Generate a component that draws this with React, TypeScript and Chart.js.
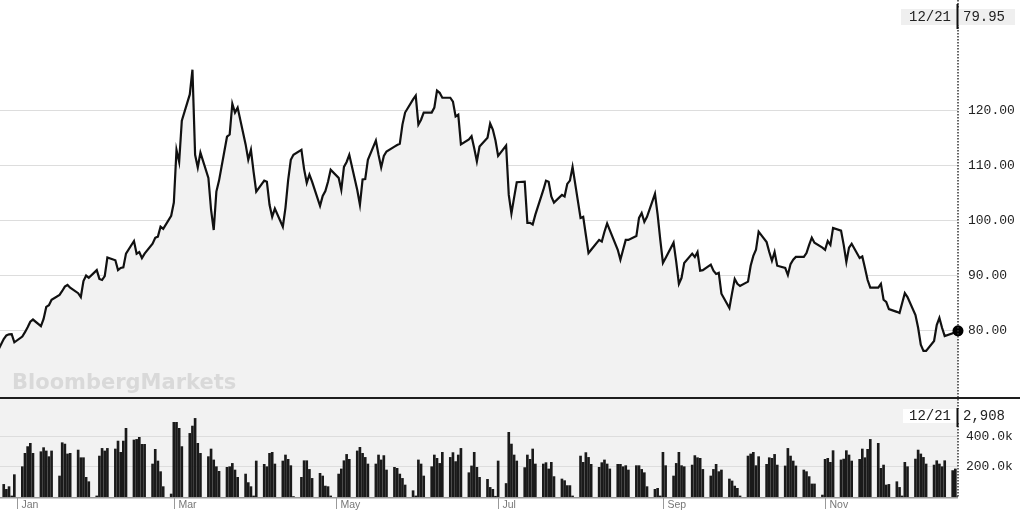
import { useEffect, useRef } from "react";
import { Chart, registerables } from "chart.js";

Chart.register(...registerables);

// ---- categories: trading days (weekdays) from 24 Dec 2021 to 21 Dec 2022 ----
const DAY = 86400000;
const START = Date.UTC(2021, 11, 24);
const END = Date.UTC(2022, 11, 21);
const JAN1 = Date.UTC(2022, 0, 1);
function buildTradingDays(): number[] {
  const out: number[] = [];
  for (let t = START; t <= END; t += DAY) {
    const wd = new Date(t).getUTCDay();
    if (wd !== 0 && wd !== 6) out.push((t - JAN1) / DAY);
  }
  return out;
}
const tradingDays = buildTradingDays();

// ---- series: closing price (one value per trading day, week by week) ----
const prices = [
  75.5, 78.45, 79.1, 79.3, 79.35, 77.85,
  78.9, 79.7, 80.6, 81.6, 82.0,
  80.8, 82.1, 84.3, 84.6, 85.6,
  86.5, 87.2, 88.0, 88.3, 87.8,
  86.8, 86.1, 89.0, 90.0, 89.6,
  91.0, 89.4, 89.2, 89.9, 93.3,
  92.8, 91.0, 91.4, 91.5, 94.0,
  96.3, 94.0, 94.3, 93.2, 94.0,
  95.8, 96.9, 97.1, 98.9, 98.5,
  100.9, 103.3, 112.9, 110.7, 118.2,
  123.0, 127.5, 112.0, 109.7, 112.4,
  107.8, 102.0, 98.3, 105.3, 107.3,
  115.3, 115.7, 121.3, 119.7, 120.6,
  113.9, 111.1, 112.9, 108.9, 105.3,
  107.3, 107.1, 102.9, 100.7, 102.2,
  98.9, 102.4, 107.4, 111.1, 112.0,
  112.9, 109.4, 106.9, 108.4, 107.1,
  102.7, 104.5, 105.4, 107.1, 109.3,
  107.8, 105.6, 109.8, 110.7, 112.0,
  105.6, 102.9, 107.5, 107.6, 111.1,
  114.6, 112.0, 109.7, 111.8, 112.6,
  113.5, 113.8, 114.0, 117.5, 119.7,
  122.1, 122.8, 117.5, 118.4, 119.7,
  119.7, 120.6, 123.7, 123.3, 122.4,
  122.4, 121.7, 119.0, 119.3, 113.9,
  114.8, 115.4, 113.2, 110.8, 113.5,
  115.1, 117.7, 116.6, 114.6, 111.8,
  113.7, 104.7, 101.3, 104.2, 107.0,
  107.1, 99.6, 99.6, 99.3, 101.1,
  105.6, 107.3, 107.1, 104.4, 103.3,
  104.7, 104.4, 106.7, 107.3, 109.8,
  100.5, 100.7, 97.4, 94.1, 94.7,
  96.5, 96.2, 98.0, 99.5, 98.3,
  94.7, 92.9, 94.7, 96.5, 96.5,
  97.2, 100.5, 101.4, 99.8, 100.7,
  104.9, 101.1, 96.5, 92.3, 93.2,
  96.0, 92.5, 88.5, 89.6, 92.3,
  94.0, 93.4, 94.3, 90.9, 91.0,
  92.0, 90.9, 90.3, 90.5, 86.7,
  84.1, 86.8, 89.4, 88.5, 88.1,
  88.9, 91.8, 93.6, 94.7, 98.0,
  96.1, 94.3, 92.7, 94.3, 91.8,
  91.4, 90.1, 92.1, 92.9, 93.4,
  93.4, 94.1, 95.6, 96.9, 96.0,
  95.1, 94.7, 96.3, 95.6, 98.7,
  98.2, 95.6, 92.5, 95.1, 95.8,
  93.2, 93.5, 91.4, 89.2, 87.8,
  87.8, 88.5, 85.6, 85.2, 83.9,
  83.4, 83.2, 85.0, 86.8, 86.1,
  82.8, 80.5, 77.4, 76.3, 76.3,
  78.1, 81.0, 82.3, 80.5, 79.0,
  79.5, 79.8, 79.95,
];

// ---- series: volume in thousands ----
const volumesK = [
  60, 84, 51, 69, 7, 149,
  202, 291, 336, 358, 291,
  302, 329, 307, 269, 307,
  140, 362, 353, 287, 291,
  313, 262, 262, 131, 102,
  7, 273, 324, 307, 324,
  320, 373, 298, 373, 458,
  380, 384, 398, 351, 351,
  220, 318, 240, 169, 69,
  20, 498, 498, 458, 336,
  424, 473, 524, 358, 291,
  269, 320, 247, 202, 171,
  198, 202, 224, 180, 131,
  153, 96, 69, 7, 240,
  218, 202, 291, 298, 220,
  240, 280, 251, 209, 3,
  131, 242, 242, 184, 124,
  158, 140, 73, 69, 7,
  153, 187, 242, 284, 251,
  307, 331, 291, 264, 220,
  220, 280, 247, 276, 180,
  198, 191, 153, 124, 80,
  42, 7, 247, 220, 140,
  202, 280, 258, 224, 298,
  264, 296, 236, 280, 324,
  162, 207, 298, 198, 131,
  118, 64, 51, 5, 240,
  90, 431, 353, 280, 240,
  196, 280, 251, 320, 220,
  220, 229, 187, 231, 136,
  120, 109, 76, 76, 7,
  273, 231, 296, 264, 218,
  198, 229, 247, 220, 187,
  218, 218, 202, 209, 180,
  209, 209, 184, 162, 69,
  51, 58, 7, 298, 209,
  140, 224, 298, 209, 202,
  213, 276, 262, 258, 184,
  140, 184, 218, 169, 180,
  120, 107, 73, 58, 7,
  273, 287, 298, 209, 269,
  218, 262, 258, 284, 213,
  207, 324, 273, 240, 207,
  180, 169, 136, 87, 87,
  13, 251, 258, 231, 309,
  247, 253, 309, 280, 240,
  251, 320, 262, 318, 384,
  358, 191, 213, 80, 84,
  102, 64, 7, 231, 202,
  253, 313, 287, 264, 220,
  213, 242, 220, 202, 242,
  176, 187, 2.908,
];

// ---- axis ticks / labels ----
const monthLabels = ["Jan", "Mar", "May", "Jul", "Sep", "Nov"];
const monthDays = [0, 59, 120, 181, 243, 304];
const priceTicks = [80, 90, 100, 110, 120];
const volumeTicks = [200000, 400000];
const lastDateLabel = "12/21";
const lastPriceLabel = "79.95";
const lastVolumeLabel = "2,908";

const X_MIN = -6.4;
const X_MAX = 354;
const MONO = "'Liberation Mono', 'Courier New', monospace";

function fitRightAxis(s: any) {
  s.width = 62;
  s.paddingTop = 0;
  s.paddingBottom = 0;
  s.paddingLeft = 0;
  s.paddingRight = 0;
}

export default function App() {
  const priceRef = useRef<HTMLCanvasElement>(null);
  const volRef = useRef<HTMLCanvasElement>(null);

  useEffect(() => {
    const last = prices.length - 1;

    const pricePlugin = {
      id: "priceDecor",
      afterDraw(chart: any) {
        const { ctx, chartArea } = chart;
        const xr = chartArea.right;
        ctx.save();
        // watermark
        ctx.font = "bold 21px 'DejaVu Sans', sans-serif";
        ctx.fillStyle = "#d9d9d9";
        ctx.textBaseline = "alphabetic";
        ctx.textAlign = "left";
        ctx.fillText("BloombergMarkets", 12, 388.5);
        // dotted vertical line
        ctx.strokeStyle = "#333";
        ctx.lineWidth = 1.5;
        ctx.setLineDash([1.5, 1.5]);
        ctx.beginPath();
        ctx.moveTo(xr, 0);
        ctx.lineTo(xr, chart.height);
        ctx.stroke();
        ctx.setLineDash([]);
        // last value box
        ctx.fillStyle = "#efefef";
        ctx.fillRect(901, 9, 114, 16);
        ctx.fillStyle = "#111";
        ctx.fillRect(xr - 1.5, 4, 2, 25);
        ctx.font = "14px " + MONO;
        ctx.fillStyle = "#222";
        ctx.textBaseline = "middle";
        ctx.fillText(lastDateLabel, 909, 17.5);
        ctx.fillText(lastPriceLabel, 963, 17.5);
        ctx.restore();
      },
    };

    const priceChart = new Chart(priceRef.current!, {
      type: "line",
      data: {
        datasets: [
          {
            data: tradingDays.map((d, i) => ({ x: d, y: prices[i] })),
            borderColor: "#111",
            borderWidth: 2.2,
            fill: "start",
            backgroundColor: "#f2f2f2",
            tension: 0,
            pointRadius: (c: any) => (c.dataIndex === last ? 5.5 : 0),
            pointHoverRadius: 0,
            pointBackgroundColor: "#000",
            pointBorderWidth: 0,
            clip: { left: 0, top: 10, right: 10, bottom: 0 } as any,
          },
        ],
      },
      options: {
        animation: false,
        responsive: false,
        maintainAspectRatio: false,
        events: [],
        layout: { padding: 0, autoPadding: false },
        plugins: { legend: { display: false }, tooltip: { enabled: false } },
        scales: {
          x: { type: "linear", min: X_MIN, max: X_MAX, display: false },
          y: {
            type: "linear",
            position: "right",
            min: 67.89,
            max: 140.2,
            afterFit: fitRightAxis,
            afterBuildTicks: (s: any) => {
              s.ticks = priceTicks.map((v) => ({ value: v }));
            },
            grid: { color: "#dddddd", lineWidth: 1, drawTicks: false },
            border: { display: false },
            ticks: {
              padding: 10,
              color: "#222",
              font: { family: MONO, size: 13 },
              callback: (v: any) => Number(v).toFixed(2),
            },
          },
        },
      },
      plugins: [pricePlugin],
    });

    const volPlugin = {
      id: "volDecor",
      beforeDraw(chart: any) {
        const { ctx, chartArea } = chart;
        ctx.save();
        ctx.fillStyle = "#f2f2f2";
        ctx.fillRect(0, chartArea.top, chartArea.right, chartArea.bottom - chartArea.top);
        ctx.restore();
      },
      afterDraw(chart: any) {
        const { ctx, chartArea } = chart;
        const xr = chartArea.right;
        const xs = chart.scales.x;
        ctx.save();
        // separator between panels
        ctx.fillStyle = "#1e1e1e";
        ctx.fillRect(0, 0, chart.width, 2);
        // baseline
        ctx.strokeStyle = "#999";
        ctx.lineWidth = 1.5;
        ctx.beginPath();
        ctx.moveTo(0, chartArea.bottom + 0.75);
        ctx.lineTo(xr, chartArea.bottom + 0.75);
        ctx.stroke();
        // month ticks and labels
        ctx.lineWidth = 1;
        ctx.strokeStyle = "#999";
        ctx.font = "10.5px 'Liberation Sans', Arial, sans-serif";
        ctx.fillStyle = "#777";
        ctx.textBaseline = "alphabetic";
        ctx.textAlign = "left";
        monthDays.forEach((d, i) => {
          const px = Math.round(xs.getPixelForValue(d)) + 0.5;
          ctx.beginPath();
          ctx.moveTo(px, chartArea.bottom + 1);
          ctx.lineTo(px, chartArea.bottom + 12);
          ctx.stroke();
          ctx.fillText(monthLabels[i], px + 4, chartArea.bottom + 10.5);
        });
        // dotted vertical line
        ctx.strokeStyle = "#333";
        ctx.lineWidth = 1.5;
        ctx.setLineDash([1.5, 1.5]);
        ctx.beginPath();
        ctx.moveTo(xr, 2);
        ctx.lineTo(xr, chartArea.bottom);
        ctx.stroke();
        ctx.setLineDash([]);
        // last volume box
        ctx.fillStyle = "#ffffff";
        ctx.fillRect(903, 12, 112, 14);
        ctx.fillStyle = "#111";
        ctx.fillRect(xr - 1.5, 11, 2, 19);
        ctx.font = "14px " + MONO;
        ctx.fillStyle = "#222";
        ctx.textBaseline = "middle";
        ctx.fillText(lastDateLabel, 909, 19.5);
        ctx.fillText(lastVolumeLabel, 963, 19.5);
        ctx.restore();
      },
    };

    const volChart = new Chart(volRef.current!, {
      type: "bar",
      data: {
        datasets: [
          {
            data: tradingDays.map((d, i) => ({ x: d, y: volumesK[i] * 1000 })),
            backgroundColor: "#1a1a1a",
            borderWidth: 0,
            barThickness: 2,
          } as any,
        ],
      },
      options: {
        animation: false,
        responsive: false,
        maintainAspectRatio: false,
        events: [],
        layout: { padding: { top: 2, bottom: 18, left: 0, right: 0 }, autoPadding: false },
        plugins: { legend: { display: false }, tooltip: { enabled: false } },
        scales: {
          x: { type: "linear", min: X_MIN, max: X_MAX, display: false, offset: false },
          y: {
            type: "linear",
            position: "right",
            min: 0,
            max: 653333,
            afterFit: fitRightAxis,
            afterBuildTicks: (s: any) => {
              s.ticks = volumeTicks.map((v) => ({ value: v }));
            },
            grid: { color: "#dddddd", lineWidth: 1, drawTicks: false },
            border: { display: false },
            ticks: {
              padding: 8,
              color: "#222",
              font: { family: MONO, size: 13 },
              callback: (v: any) => (Number(v) / 1000).toFixed(1) + "k",
            },
          },
        },
      },
      plugins: [volPlugin],
    });

    return () => {
      priceChart.destroy();
      volChart.destroy();
    };
  }, []);

  return (
    <div
      style={{
        position: "absolute",
        left: 0,
        top: 0,
        width: 1020,
        height: 515,
        background: "#ffffff",
        overflow: "hidden",
      }}
    >
      <canvas
        ref={priceRef}
        width={1020}
        height={397}
        style={{ position: "absolute", left: 0, top: 0, width: 1020, height: 397 }}
      />
      <canvas
        ref={volRef}
        width={1020}
        height={118}
        style={{ position: "absolute", left: 0, top: 397, width: 1020, height: 118 }}
      />
    </div>
  );
}
